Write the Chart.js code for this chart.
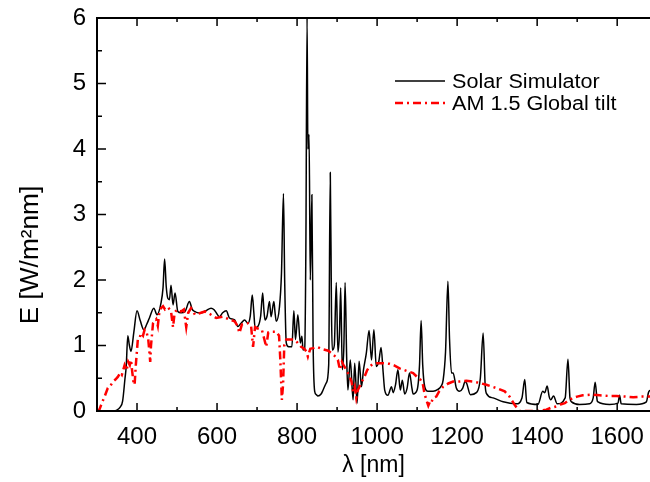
<!DOCTYPE html>
<html>
<head>
<meta charset="utf-8">
<script src="https://cdn.jsdelivr.net/npm/chart.js@4.4.1/dist/chart.umd.min.js"></script>
<style>
html, body { margin: 0; padding: 0; background: #fff; }
#wrap { width: 650px; height: 482px; }
</style>
</head>
<body>
<div id="wrap"><canvas id="specChart" width="650" height="482"></canvas></div>
<script>
// Solar simulator spectrum - wavelength [nm] and irradiance [W/m2nm]
const simWl = [300, 340, 348, 358, 364, 370, 373, 377, 381, 385, 392, 400, 408, 417, 424, 431, 442, 450, 460, 465,
  469, 473, 477, 481, 485, 490, 495, 502, 510, 520, 531, 538, 544, 552, 560, 572, 585, 592, 598, 606,
  614, 623, 631, 644, 652, 660, 669, 677, 683, 688, 692, 695, 703, 709, 714, 717, 720, 725, 731, 735,
  742, 745, 748, 756, 761, 766, 769, 773, 779, 787, 792, 796, 802, 808, 812, 815, 819, 822, 825, 827,
  830, 833, 837, 840, 844, 848, 852, 860, 865, 873, 879, 883, 886, 888, 893, 898, 902, 906, 909, 913,
  917, 920, 924, 927, 933, 940, 944, 950, 955, 961, 966, 973, 980, 986, 992, 998, 1004, 1010, 1015, 1019,
  1027, 1036, 1040, 1046, 1052, 1058, 1063, 1069, 1075, 1081, 1087, 1090, 1100, 1106, 1110, 1114, 1119, 1127, 1140, 1152,
  1160, 1165, 1171, 1177, 1181, 1186, 1190, 1198, 1206, 1214, 1220, 1224, 1233, 1248, 1258, 1265, 1270, 1273, 1290, 1315,
  1348, 1362, 1369, 1374, 1402, 1414, 1419, 1425, 1430, 1434, 1441, 1450, 1470, 1477, 1482, 1486, 1506, 1531, 1540, 1545,
  1550, 1552, 1581, 1602, 1606, 1610, 1648, 1673, 1678, 1682];
const simE = [0, 0, 0.01, 0.06, 0.15, 0.5, 0.68, 1.15, 1.0, 0.91, 1.2, 1.53, 1.38, 1.24, 1.32, 1.42, 1.57, 1.47, 1.65, 1.88,
  2.32, 1.9, 1.72, 1.7, 1.92, 1.62, 1.8, 1.52, 1.5, 1.52, 1.67, 1.55, 1.52, 1.5, 1.5, 1.53, 1.57, 1.55, 1.5, 1.44,
  1.5, 1.53, 1.42, 1.39, 1.29, 1.34, 1.39, 1.34, 1.45, 1.77, 1.5, 1.27, 1.3, 1.45, 1.8, 1.55, 1.39, 1.45, 1.67, 1.44,
  1.67, 1.5, 1.37, 1.59, 2.1, 3.32, 2.0, 1.04, 0.98, 0.98, 1.53, 1.09, 1.47, 1.04, 1.14, 0.93, 0.95, 2.5, 6.0, 4.0,
  4.22, 2.0, 3.3, 1.06, 0.3, 0.25, 0.23, 0.26, 0.32, 0.43, 0.7, 3.64, 1.5, 0.93, 1.0, 1.96, 0.9, 1.2, 1.88, 0.63,
  1.0, 1.96, 0.8, 0.32, 0.78, 0.17, 0.73, 0.12, 0.76, 0.37, 0.63, 0.88, 1.23, 0.78, 1.24, 0.68, 0.75, 0.97, 0.6, 0.32,
  0.24, 0.37, 0.28, 0.4, 0.63, 0.32, 0.47, 0.26, 0.35, 0.58, 0.35, 0.26, 0.32, 0.7, 1.38, 0.7, 0.37, 0.3, 0.3, 0.33,
  0.38, 0.47, 0.9, 1.98, 1.1, 0.58, 0.58, 0.35, 0.3, 0.35, 0.45, 0.42, 0.25, 0.28, 0.5, 1.19, 0.4, 0.27, 0.2, 0.14,
  0.11, 0.2, 0.48, 0.13, 0.1, 0.3, 0.28, 0.38, 0.22, 0.17, 0.23, 0.11, 0.2, 0.79, 0.2, 0.14, 0.1, 0.11, 0.2, 0.44,
  0.16, 0.14, 0.1, 0.12, 0.24, 0.11, 0.1, 0.14, 0.28, 0.32];

// AM 1.5 global tilt reference spectrum
const amWl = [300, 306, 312, 319, 327, 333, 340, 346, 352, 358, 362, 369, 374, 378, 382, 385, 388, 391, 394, 397,
  402, 406, 410, 415, 419, 424, 428, 431, 433, 435, 440, 448, 452, 456, 460, 465, 470, 478, 485, 490,
  494, 500, 510, 517, 523, 528, 535, 545, 560, 570, 585, 598, 615, 630, 644, 651, 656, 662, 677, 685,
  690, 695, 702, 712, 718, 723, 728, 735, 748, 755, 758, 762, 765, 768, 773, 792, 800, 810, 818, 823,
  827, 833, 840, 850, 865, 878, 890, 898, 902, 907, 912, 918, 923, 931, 936, 940, 944, 948, 952, 956,
  962, 969, 975, 981, 990, 998, 1015, 1031, 1045, 1056, 1075, 1090, 1100, 1108, 1114, 1118, 1123, 1128, 1132, 1135,
  1140, 1148, 1155, 1165, 1178, 1190, 1205, 1223, 1240, 1255, 1273, 1298, 1319, 1331, 1338, 1344, 1356, 1380, 1398, 1410,
  1423, 1435, 1448, 1458, 1469, 1478, 1490, 1500, 1514, 1535, 1556, 1578, 1598, 1620, 1640, 1660, 1682];
const amE = [0, 0.02, 0.12, 0.22, 0.35, 0.38, 0.45, 0.48, 0.52, 0.58, 0.55, 0.7, 0.62, 0.75, 0.7, 0.78, 0.6, 0.45, 0.4, 0.7,
  1.09, 1.1, 1.19, 1.15, 1.24, 1.2, 1.1, 0.9, 0.75, 1.0, 1.34, 1.4, 1.3, 1.52, 1.57, 1.6, 1.55, 1.58, 1.52, 1.28,
  1.5, 1.55, 1.52, 1.55, 1.28, 1.5, 1.57, 1.47, 1.5, 1.52, 1.47, 1.42, 1.44, 1.4, 1.37, 1.3, 1.19, 1.32, 1.34, 1.3,
  0.98, 1.28, 1.26, 1.24, 1.1, 0.98, 1.2, 1.21, 1.21, 1.15, 0.8, 0.17, 0.4, 1.0, 1.09, 1.09, 1.05, 0.98, 0.95, 0.91,
  0.83, 0.95, 0.96, 0.98, 0.94, 0.92, 0.86, 0.82, 0.78, 0.63, 0.75, 0.68, 0.63, 0.53, 0.45, 0.3, 0.37, 0.2, 0.32, 0.37,
  0.45, 0.53, 0.62, 0.68, 0.72, 0.73, 0.73, 0.72, 0.69, 0.65, 0.61, 0.58, 0.52, 0.48, 0.42, 0.28, 0.17, 0.08, 0.14, 0.12,
  0.2, 0.22, 0.3, 0.37, 0.42, 0.45, 0.45, 0.46, 0.45, 0.43, 0.4, 0.35, 0.3, 0.22, 0.15, 0.09, 0, 0, 0, 0.01,
  0.02, 0.05, 0.07, 0.1, 0.12, 0.16, 0.2, 0.22, 0.24, 0.25, 0.24, 0.23, 0.23, 0.22, 0.21, 0.22, 0.22];

const xTicks = [400, 600, 800, 1000, 1200, 1400, 1600];
const xMinor = [500, 700, 900, 1100, 1300, 1500];
const yTicks = [0, 1, 2, 3, 4, 5, 6];
const yMinor = [0.5, 1.5, 2.5, 3.5, 4.5, 5.5];

const FONT = '"Liberation Sans", Arial, sans-serif';
const RED = '#ff0000';

// box, inward ticks, y title and legend
const decor = {
  id: 'decor',
  afterDraw(chart) {
    const { ctx, chartArea: a, scales: { x, y } } = chart;
    ctx.save();
    ctx.strokeStyle = '#000';
    ctx.lineWidth = 2;
    ctx.beginPath();
    ctx.moveTo(a.right, a.top); ctx.lineTo(a.left, a.top);
    ctx.lineTo(a.left, a.bottom); ctx.lineTo(a.right, a.bottom);
    ctx.stroke();

    ctx.lineWidth = 1.5;
    ctx.beginPath();
    const xt = (v, len) => {
      const p = x.getPixelForValue(v);
      ctx.moveTo(p, a.bottom); ctx.lineTo(p, a.bottom - len);
      ctx.moveTo(p, a.top); ctx.lineTo(p, a.top + len);
    };
    const yt = (v, len) => {
      const p = y.getPixelForValue(v);
      ctx.moveTo(a.left, p); ctx.lineTo(a.left + len, p);
    };
    xTicks.forEach(v => xt(v, 8));
    xMinor.forEach(v => xt(v, 4));
    yTicks.forEach(v => yt(v, 9));
    yMinor.forEach(v => yt(v, 5));
    ctx.stroke();

    // y axis title
    ctx.fillStyle = '#000';
    ctx.save();
    ctx.translate(31, 255);
    ctx.rotate(-Math.PI / 2);
    ctx.scale(1.05, 1);
    ctx.textAlign = 'center';
    ctx.textBaseline = 'middle';
    ctx.font = '25px ' + FONT;
    ctx.fillText('E [W/m²nm]', 0, 0);
    ctx.restore();

    // legend
    const items = [
      { label: chart.data.datasets[0].label, color: '#000', dash: [], width: 1.5, yy: 81 },
      { label: chart.data.datasets[1].label, color: RED, dash: [8, 4, 2, 4], width: 2.5, yy: 103 }
    ];
    items.forEach(it => {
      ctx.beginPath();
      ctx.strokeStyle = it.color;
      ctx.lineWidth = it.width;
      ctx.setLineDash(it.dash);
      ctx.moveTo(395, it.yy); ctx.lineTo(445, it.yy);
      ctx.stroke();
      ctx.setLineDash([]);
      ctx.save();
      ctx.translate(452, it.yy);
      ctx.scale(1.08, 1);
      ctx.font = '20px ' + FONT;
      ctx.textBaseline = 'middle';
      ctx.fillStyle = '#000';
      ctx.fillText(it.label, 0, 1);
      ctx.restore();
    });
    ctx.restore();
  }
};

new Chart(document.getElementById('specChart'), {
  type: 'line',
  data: {
    datasets: [{
      label: 'Solar Simulator',
      data: simWl.map((w, i) => ({ x: w, y: simE[i] })),
      borderColor: '#000',
      borderWidth: 1.5,
      pointRadius: 0,
      cubicInterpolationMode: 'monotone',
      order: 1
    }, {
      label: 'AM 1.5 Global tilt',
      data: amWl.map((w, i) => ({ x: w, y: amE[i] })),
      borderColor: RED,
      borderWidth: 2.5,
      borderDash: [8, 4, 2, 4],
      pointRadius: 0,
      order: 0
    }]
  },
  options: {
    responsive: false,
    devicePixelRatio: 1,
    animation: false,
    layout: { padding: { top: 18, right: 0, left: 0, bottom: 0 } },
    plugins: { legend: { display: false }, tooltip: { enabled: false } },
    scales: {
      x: {
        type: 'linear',
        min: 300,
        max: 1682,
        afterFit: s => { s.height = 71; s.paddingLeft = 0; s.paddingRight = 0; },
        afterBuildTicks: s => { s.ticks = xTicks.map(v => ({ value: v })); },
        grid: { display: false, drawTicks: false },
        border: { display: false },
        ticks: { color: '#000', padding: 12, maxRotation: 0, callback: v => String(v), font: { family: FONT, size: 24 } },
        title: { display: true, text: 'λ [nm]', color: '#000', padding: { top: 0, bottom: 3 }, font: { family: FONT, size: 23 } }
      },
      y: {
        min: 0,
        max: 6,
        afterFit: s => { s.width = 97; s.paddingTop = 0; s.paddingBottom = 0; },
        afterBuildTicks: s => { s.ticks = yTicks.map(v => ({ value: v })); },
        grid: { display: false, drawTicks: false },
        border: { display: false },
        ticks: { color: '#000', padding: 11, font: { family: FONT, size: 24 } }
      }
    }
  },
  plugins: [decor]
});
</script>
</body>
</html>
